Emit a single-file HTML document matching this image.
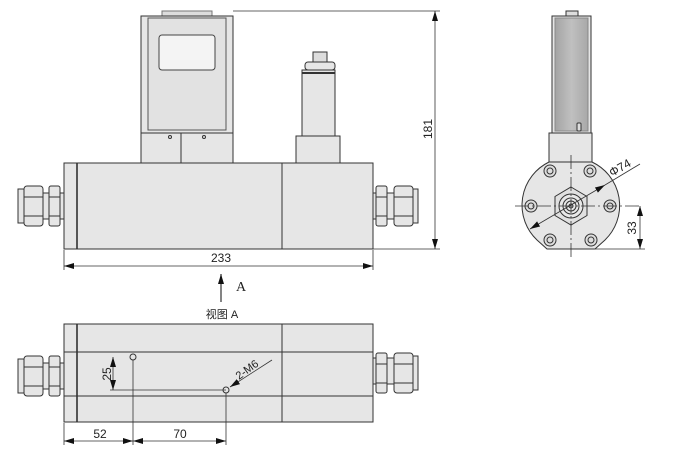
<!DOCTYPE html>
<html><head><meta charset="utf-8"><style>
html,body{margin:0;padding:0;background:#fff;width:680px;height:453px;overflow:hidden}
svg{display:block}
text{font-family:"Liberation Sans","Noto Sans CJK SC",sans-serif;fill:#222}
</style></head><body>
<svg width="680" height="453" viewBox="0 0 680 453" xmlns="http://www.w3.org/2000/svg">
<defs>
<marker id="ar" viewBox="0 0 10 6" refX="10" refY="3" markerWidth="10" markerHeight="6" orient="auto-start-reverse" markerUnits="userSpaceOnUse"><path d="M0,0 L10,3 L0,6 z" fill="#111"/></marker>
<linearGradient id="g" x1="0" x2="1"><stop offset="0" stop-color="#a4a4a4"/><stop offset="0.5" stop-color="#c0c0c0"/><stop offset="1" stop-color="#a8a8a8"/></linearGradient>
</defs>
<g stroke="#333" stroke-width="1" fill="#e6e6e6">
<rect x="162" y="11" width="50" height="5" fill="#ddd" stroke="#777"/>
<rect x="141" y="16" width="92" height="117"/>
<rect x="148" y="18" width="78" height="112" fill="#e2e2e2" stroke="#555"/>
<rect x="159" y="35" width="56" height="35" rx="3" fill="#f4f4f4" stroke="#444"/>
<rect x="141" y="133" width="92" height="30"/>
<line x1="181" y1="133" x2="181" y2="163"/>
<circle cx="170" cy="137" r="1.5" fill="none"/><circle cx="204" cy="137" r="1.5" fill="none"/>
<rect x="313" y="52" width="14" height="10" fill="#ddd"/>
<rect x="305" y="62" width="30" height="8" rx="3"/>
<rect x="302" y="70" width="33" height="66"/>
<line x1="302" y1="73" x2="335" y2="73" stroke-width="2"/>
<rect x="296" y="136" width="44" height="27"/>
<rect x="64" y="163" width="309" height="86"/>
<line x1="77" y1="163" x2="77" y2="249" stroke-width="1.6"/>
<line x1="282" y1="163" x2="282" y2="249"/>
<rect x="18" y="189" width="6" height="34"/>
<rect x="24" y="186" width="19" height="40" rx="3"/>
<line x1="24" y1="197" x2="43" y2="197"/><line x1="24" y1="216" x2="43" y2="216"/>
<rect x="43" y="193" width="6" height="26"/>
<rect x="49" y="186" width="11" height="40" rx="2"/>
<line x1="49" y1="197" x2="60" y2="197"/><line x1="49" y1="216" x2="60" y2="216"/>
<rect x="60" y="193" width="4" height="26"/>
<rect x="373" y="193" width="3" height="26"/>
<rect x="376" y="186" width="11" height="40" rx="2"/>
<line x1="376" y1="197" x2="387" y2="197"/><line x1="376" y1="216" x2="387" y2="216"/>
<rect x="387" y="193" width="7" height="26"/>
<rect x="394" y="186" width="19" height="40" rx="3"/>
<line x1="394" y1="197" x2="413" y2="197"/><line x1="394" y1="216" x2="413" y2="216"/>
<rect x="413" y="189" width="5" height="34"/>
<rect x="64" y="324" width="309" height="98"/>
<line x1="64" y1="352" x2="373" y2="352"/><line x1="64" y1="396" x2="373" y2="396"/>
<line x1="77" y1="324" x2="77" y2="422" stroke-width="1.6"/>
<line x1="282" y1="324" x2="282" y2="422"/>
<rect x="18" y="359" width="6" height="34"/>
<rect x="24" y="356" width="19" height="40" rx="3"/>
<line x1="24" y1="367" x2="43" y2="367"/><line x1="24" y1="386" x2="43" y2="386"/>
<rect x="43" y="363" width="6" height="26"/>
<rect x="49" y="356" width="11" height="40" rx="2"/>
<line x1="49" y1="367" x2="60" y2="367"/><line x1="49" y1="386" x2="60" y2="386"/>
<rect x="60" y="363" width="4" height="26"/>
<rect x="373" y="358" width="3" height="26"/>
<rect x="376" y="353" width="11" height="40" rx="2"/>
<line x1="376" y1="364" x2="387" y2="364"/><line x1="376" y1="383" x2="387" y2="383"/>
<rect x="387" y="358" width="7" height="26"/>
<rect x="394" y="353" width="19" height="40" rx="3"/>
<line x1="394" y1="364" x2="413" y2="364"/><line x1="394" y1="383" x2="413" y2="383"/>
<rect x="413" y="356" width="5" height="34"/>
<circle cx="133" cy="357" r="3" fill="none"/>
<circle cx="226" cy="390" r="3" fill="none"/>
<rect x="566" y="11" width="12" height="5" fill="#ddd"/>
<rect x="552" y="16" width="39" height="117"/>
<rect x="555" y="18" width="33" height="113" fill="url(#g)" stroke="#888"/>
<rect x="577" y="123" width="4" height="8" rx="1" fill="#ddd"/>
<rect x="549" y="133" width="43" height="29"/>
<path d="M549,162 A48,48 0 0 0 537,240 L547,249 L595,249 L605,240 A48,48 0 0 0 592,162 Z"/>
<g fill="#ddd">
<circle cx="550" cy="171" r="6"/><circle cx="590" cy="171" r="6"/>
<circle cx="531" cy="206" r="6"/><circle cx="610" cy="206" r="6"/>
<circle cx="550" cy="240" r="6"/><circle cx="591" cy="240" r="6"/>
</g>
<g fill="none">
<circle cx="550" cy="171" r="3"/><circle cx="590" cy="171" r="3"/>
<circle cx="531" cy="206" r="3"/><circle cx="610" cy="206" r="3"/>
<circle cx="550" cy="240" r="3"/><circle cx="591" cy="240" r="3"/>
</g>
<polygon points="571,187 587,196.5 587,215.5 571,225 555,215.5 555,196.5" fill="#e0e0e0"/>
<circle cx="571" cy="206" r="12" fill="#e8e8e8"/>
<circle cx="571" cy="206" r="8" fill="none"/>
<circle cx="571" cy="206" r="5" fill="none"/>
<circle cx="571" cy="206" r="2" fill="none"/>
</g>
<g stroke="#333" stroke-width="0.8" fill="none">
<line x1="571" y1="155" x2="571" y2="258" stroke-dasharray="14,3,2,3"/>
<line x1="515" y1="206" x2="640" y2="206" stroke-dasharray="14,3,2,3"/>
</g>
<g stroke="#333" stroke-width="0.8" fill="none">
<line x1="233" y1="11" x2="440" y2="11"/>
<line x1="373" y1="249" x2="440" y2="249"/>
<line x1="435" y1="11" x2="435" y2="249" marker-start="url(#ar)" marker-end="url(#ar)"/>
<line x1="64" y1="250" x2="64" y2="270"/><line x1="373" y1="250" x2="373" y2="270"/>
<line x1="64" y1="266" x2="373" y2="266" marker-start="url(#ar)" marker-end="url(#ar)"/>
<line x1="221" y1="302" x2="221" y2="274" marker-end="url(#ar)" stroke-width="1.2"/>
<line x1="595" y1="249" x2="645" y2="249"/>
<line x1="640" y1="206" x2="640" y2="249" marker-start="url(#ar)" marker-end="url(#ar)"/>
<line x1="530" y1="229" x2="605" y2="185" marker-start="url(#ar)" marker-end="url(#ar)"/>
<line x1="605" y1="185" x2="640" y2="164"/>
<line x1="110" y1="390" x2="226" y2="390"/>
<line x1="113" y1="357" x2="113" y2="390" marker-start="url(#ar)" marker-end="url(#ar)"/>
<line x1="64" y1="423" x2="64" y2="445"/>
<line x1="133" y1="360" x2="133" y2="445"/>
<line x1="226" y1="393" x2="226" y2="445"/>
<line x1="64" y1="441" x2="133" y2="441" marker-start="url(#ar)" marker-end="url(#ar)"/>
<line x1="133" y1="441" x2="226" y2="441" marker-start="url(#ar)" marker-end="url(#ar)"/>
<line x1="230" y1="387" x2="272" y2="360" marker-start="url(#ar)"/>
</g>
<text x="221" y="262" font-size="12" text-anchor="middle">233</text>
<text transform="translate(432,129) rotate(-90)" font-size="12" text-anchor="middle">181</text>
<text x="241" y="291" font-size="14" text-anchor="middle" style="font-family:'Liberation Serif',serif">A</text>
<text x="222" y="318" font-size="11" text-anchor="middle">视图 A</text>
<text transform="translate(636,228) rotate(-90)" font-size="12" text-anchor="middle">33</text>
<text transform="translate(612,177) rotate(-30)" font-size="12">Φ74</text>
<text transform="translate(111,374) rotate(-90)" font-size="12" text-anchor="middle">25</text>
<text x="100" y="438" font-size="12" text-anchor="middle">52</text>
<text x="180" y="438" font-size="12" text-anchor="middle">70</text>
<text transform="translate(239,380) rotate(-36)" font-size="11">2-M6</text>
</svg>
</body></html>
